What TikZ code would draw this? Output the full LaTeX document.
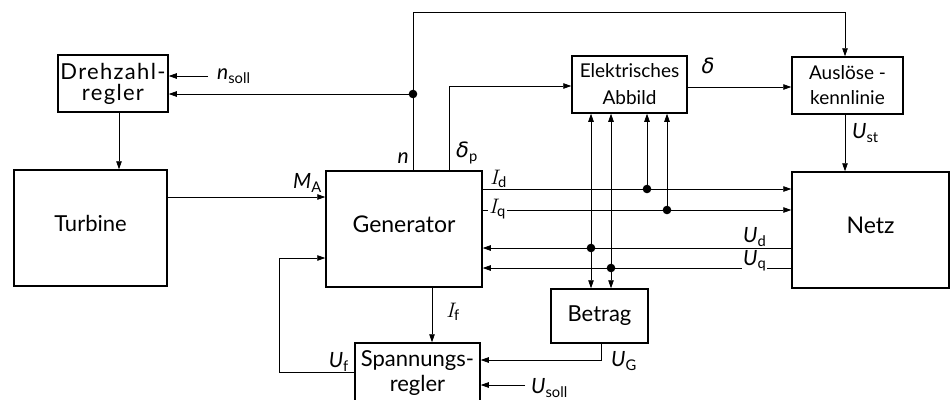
\documentclass[tikz,border=0pt]{standalone}
\usepackage{fontspec}
\setmainfont{Lato}
\newfontfamily\grk{DejaVu Sans}
\newfontfamily\lmr{Latin Modern Roman}
\usetikzlibrary{arrows.meta}
\newcommand\mysym[2]{\textit{#1}\textsubscript{\upshape #2}}
\newcommand\Isym[1]{{\lmr\itshape I}\textsubscript{#1}}
\newcommand\dlt{{\grk\itshape δ}}
\begin{document}
\begin{tikzpicture}[x=1pt,y=-1pt,
  box/.style={draw,line width=1.5pt,inner sep=0pt,align=center,font=\fontsize{22}{26}\selectfont},
  con/.style={line width=0.8pt},
  arr/.style={con,-{Triangle[length=8pt,width=5.5pt]}},
  darr/.style={con,{Triangle[length=8pt,width=5.5pt]}-{Triangle[length=8pt,width=5.5pt]}},
  lab/.style={font=\fontsize{21}{24}\selectfont,inner sep=1pt}]
\clip (0,0) rectangle (952,399);
\fill[white] (0,0) rectangle (952,399);
% boxes
\node[box,minimum width=110pt,minimum height=57pt,font=\fontsize{22}{21}\selectfont\addfontfeature{LetterSpace=6}] (dr) at (113,83.5) {Drehzahl-\\regler};
\node[box,minimum width=153pt,minimum height=116pt] (tur) at (90.5,228) {\raisebox{10pt}{Turbine}};
\node[box,minimum width=156pt,minimum height=116pt,font=\fontsize{23}{26}\selectfont] (gen) at (404,229) {\raisebox{10pt}{Generator}};
\node[box,minimum width=115pt,minimum height=57pt,font=\fontsize{19}{27}\selectfont] (abb) at (629.5,84.5) {Elektrisches\\Abbild};
\node[box,minimum width=111pt,minimum height=57pt,font=\fontsize{19}{25}\selectfont] (aus) at (847.5,85.5) {Auslöse -\\kennlinie};
\node[box,minimum width=157pt,minimum height=116pt,font=\fontsize{23}{26}\selectfont] (net) at (870.5,230) {\raisebox{10pt}{Netz}};
\node[box,minimum width=97pt,minimum height=54pt] (bet) at (599.5,316) {Betrag};
\node[box,minimum width=125pt,minimum height=60pt,font=\fontsize{22}{28}\selectfont] (spa) at (417.5,373) {\raisebox{1.5pt}{\shortstack{Spannungs-\\[2pt]regler}}};
% helper coordinates
\coordinate (nsoll) at (208,76);
\coordinate (tl) at (413,12);
\coordinate (tr) at (845,12);
\coordinate (xdr) at (119,0);
\coordinate (yMA) at (0,197);
\coordinate (dp) at (449,86);
\coordinate (yd) at (0,87);
\coordinate (xIf) at (432,0);
\coordinate (uf1) at (279,372);
\coordinate (yUf) at (0,258);
\coordinate (ug) at (601,360);
\coordinate (us) at (525,385);
\coordinate (dn) at (413,94);
\coordinate (dId) at (647,189);
\coordinate (dIq) at (667,210);
\coordinate (dUd) at (591,248);
\coordinate (dUq) at (611,268);
% connectors
\draw[arr] (nsoll) -- (dr.east |- nsoll);
\draw[arr] (dn) -- (dr.east |- dn);
\draw[arr] (gen.north -| tl) -- (tl) -- (tr) -- (aus.north -| tr);
\draw[arr] (dr.south -| xdr) -- (tur.north -| xdr);
\draw[arr] (tur.east |- yMA) -- (gen.west |- yMA);
\draw[arr] (gen.north -| dp) -- (dp) -- (abb.west |- dp);
\draw[arr] (abb.east |- yd) -- (aus.west |- yd);
\draw[arr] (aus.south -| tr) -- (net.north -| tr);
\draw[arr] (gen.east |- dId) -- (net.west |- dId);
\draw[arr] (dId) -- (abb.south -| dId);
\draw[arr] (gen.east |- dIq) -- (net.west |- dIq);
\draw[arr] (dIq) -- (abb.south -| dIq);
\draw[arr] (net.west |- dUd) -- (gen.east |- dUd);
\draw[darr] (bet.north -| dUd) -- (abb.south -| dUd);
\draw[arr] (net.west |- dUq) -- (gen.east |- dUq);
\draw[darr] (bet.north -| dUq) -- (abb.south -| dUq);
\draw[arr] (gen.south -| xIf) -- (spa.north -| xIf);
\draw[arr] (spa.west |- uf1) -- (uf1) |- (gen.west |- yUf);
\draw[arr] (bet.south -| ug) -- (ug) -- (spa.east |- ug);
\draw[arr] (us) -- (spa.east |- us);
% junction dots
\foreach \d in {dn,dId,dIq,dUd,dUq} \fill (\d) circle (4.3pt);
% labels
\node[lab,anchor=west] (Lnsoll) at (216,76) {\mysym{n}{soll}};
\node[lab,anchor=east] (Ln) at (410,158) {\textit{n}};
\node[lab,anchor=west] (Ldp) at (455,153) {\dlt\textsubscript{p}};
\node[lab,anchor=east] (LMA) at (323,183) {\mysym{M}{A}};
\node[lab,anchor=west] (LId) at (489,179) {\Isym{d}};
\node[lab,anchor=west,fill=white] (LIq) at (488,209) {\Isym{q}};
\node[lab,anchor=west] (LUd) at (742,237) {\mysym{U}{d}};
\node[lab,anchor=west,fill=white] (LUq) at (742,261) {\mysym{U}{q}};
\node[lab] (Ldelta) at (708,66) {\dlt};
\node[lab,anchor=west] (LUst) at (851,133) {\mysym{U}{st}};
\node[lab,anchor=west] (LIf) at (445,312) {\Isym{f}};
\node[lab,anchor=east] (LUf) at (350,362) {\mysym{U}{f}};
\node[lab,anchor=west] (LUG) at (610,361) {\mysym{U}{G}};
\node[lab,anchor=west] (LUsoll) at (530,388) {\mysym{U}{soll}};
\end{tikzpicture}
\end{document}
